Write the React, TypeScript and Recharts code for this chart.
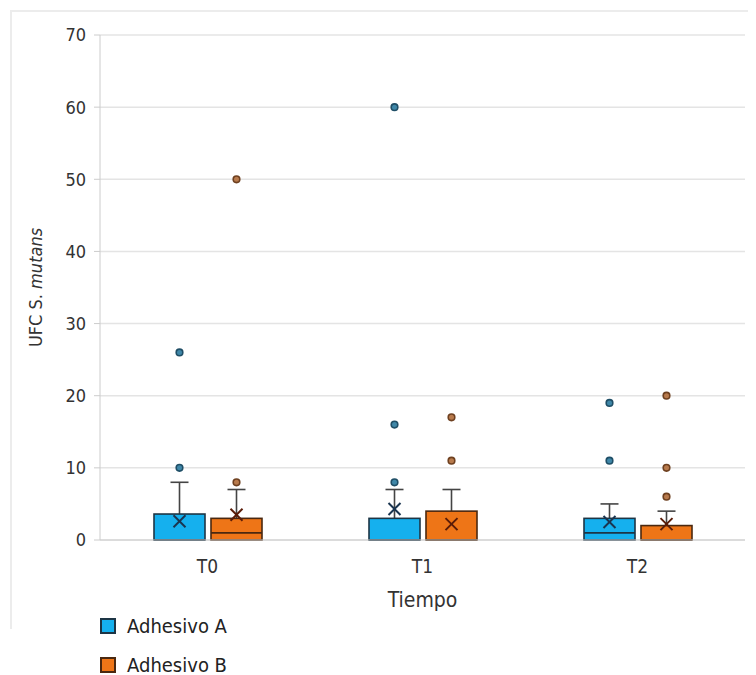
import { Bar, CartesianGrid, ComposedChart, XAxis, YAxis } from "recharts";

const categories = ["T0", "T1", "T2"];
const seriesNames = ["Adhesivo A", "Adhesivo B"];
const yTicks = [0, 10, 20, 30, 40, 50, 60, 70];

// Adhesivo A
const aQ1 = [0, 0, 0];
const aMedian = [0, 0, 1];
const aQ3 = [3.6, 3, 3];
const aMax = [8, 7, 5];
const aMean = [2.6, 4.3, 2.5];
const aOutliers = [[10, 26], [8, 16, 60], [11, 19]];

// Adhesivo B
const bQ1 = [0, 0, 0];
const bMedian = [1, 0, 0];
const bQ3 = [3, 4, 2];
const bMax = [7, 7, 4];
const bMean = [3.5, 2.2, 2.2];
const bOutliers = [[8, 50], [11, 17], [6, 10, 20]];

const FONT = '"DejaVu Sans Condensed", "DejaVu Sans", sans-serif';

const styles: Record<string, any> = {
  A: { fill: "#15b0ee", stroke: "#1d3545", dot: "#3f87a8", dotStroke: "#1f4e66", mean: "#1a3550" },
  B: { fill: "#ee7517", stroke: "#4a2810", dot: "#b87a4c", dotStroke: "#6e4020", mean: "#5a1c08" },
};

const data = categories.map((name, i) => ({
  name,
  boxA: [aQ1[i], aQ3[i]],
  boxB: [bQ1[i], bQ3[i]],
  statsA: { q1: aQ1[i], median: aMedian[i], q3: aQ3[i], max: aMax[i], mean: aMean[i], outliers: aOutliers[i] },
  statsB: { q1: bQ1[i], median: bMedian[i], q3: bQ3[i], max: bMax[i], mean: bMean[i], outliers: bOutliers[i] },
}));

const BoxShape = (props: any) => {
  const { x, y, width, height, payload, series } = props;
  const st = payload["stats" + series];
  const c = styles[series];
  const top = Math.min(y, y + height);
  const bottom = Math.max(y, y + height);
  // pixels per unit taken from the bar the library placed
  const ppu = (bottom - top) / (st.q3 - st.q1);
  const toY = (v: number) => bottom - (v - st.q1) * ppu;
  const cx = x + width / 2;
  const m = toY(st.mean);
  const k = 6;
  return (
    <g>
      <line x1={cx} x2={cx} y1={toY(st.q3)} y2={toY(st.max)} stroke="#444" strokeWidth={1.6} />
      <line x1={cx - 9} x2={cx + 9} y1={toY(st.max)} y2={toY(st.max)} stroke="#444" strokeWidth={1.6} />
      <rect x={x} y={top} width={width} height={bottom - top} fill={c.fill} stroke={c.stroke} strokeWidth={1.6} />
      <line x1={x} x2={x + width} y1={toY(st.median)} y2={toY(st.median)} stroke={c.stroke} strokeWidth={1.8} />
      <line x1={cx - k} x2={cx + k} y1={m - k} y2={m + k} stroke={c.mean} strokeWidth={2} />
      <line x1={cx - k} x2={cx + k} y1={m + k} y2={m - k} stroke={c.mean} strokeWidth={2} />
      {st.outliers.map((v: number, j: number) => (
        <circle key={j} cx={cx} cy={toY(v)} r={3.3} fill={c.dot} stroke={c.dotStroke} strokeWidth={1.6} />
      ))}
    </g>
  );
};

const renderYLabel = (props: any) => {
  const { viewBox } = props;
  const x = viewBox.x + 15;
  const y = viewBox.y + viewBox.height / 2;
  return (
    <text x={x} y={y} transform={`rotate(-90, ${x}, ${y})`} textAnchor="middle" dominantBaseline="central"
      fontSize={18} fill="#333" fontFamily={FONT}>
      UFC S. <tspan fontStyle="italic">mutans</tspan>
    </text>
  );
};

const renderXLabel = (props: any) => {
  const { viewBox } = props;
  return (
    <text x={viewBox.x + viewBox.width / 2} y={viewBox.y + 67} textAnchor="middle"
      fontSize={21} fill="#333" fontFamily={FONT}>
      Tiempo
    </text>
  );
};

const ChartLegend = () => (
  <div style={{ position: "absolute", left: 92, top: 598, fontFamily: FONT, fontSize: 20, color: "#222" }}>
    {seriesNames.map((n, i) => {
      const c = styles[i === 0 ? "A" : "B"];
      return (
        <div key={n} style={{ display: "flex", alignItems: "center", height: 39 }}>
          <span style={{ width: 12, height: 12, background: c.fill, border: `2px solid ${c.stroke}`, display: "inline-block" }} />
          <span style={{ marginLeft: 11 }}>{n}</span>
        </div>
      );
    })}
  </div>
);

export default function App() {
  return (
    <div style={{ position: "relative", width: 748, height: 667 }}>
      <div style={{ position: "absolute", left: 2, top: 2, width: 746, height: 617, borderTop: "2px solid #ececec", borderLeft: "2px solid #ececec" }} />
      <ComposedChart width={748} height={667} data={data} barSize={51} barGap={6}
        margin={{ top: 27, right: 11, left: 12, bottom: 60 }}>
        <CartesianGrid vertical={false} stroke="#e4e4e4" strokeWidth={1.5} />
        <XAxis dataKey="name" height={75} tickLine={false} tickSize={0} tickMargin={20}
          axisLine={{ stroke: "#ccc" }} tick={{ fill: "#333", fontSize: 19, fontFamily: FONT }}
          label={renderXLabel} />
        <YAxis width={80} domain={[0, 70]} ticks={yTicks} interval={0} tickSize={6} tickMargin={8}
          axisLine={{ stroke: "#ccc" }} tickLine={{ stroke: "#ccc" }}
          tick={{ fill: "#333", fontSize: 18, fontFamily: FONT }} label={renderYLabel} />
        <Bar dataKey="boxA" name={seriesNames[0]} fill={styles.A.fill} isAnimationActive={false}
          shape={(p: any) => <BoxShape {...p} series="A" />} />
        <Bar dataKey="boxB" name={seriesNames[1]} fill={styles.B.fill} isAnimationActive={false}
          shape={(p: any) => <BoxShape {...p} series="B" />} />
      </ComposedChart>
      <ChartLegend />
    </div>
  );
}
